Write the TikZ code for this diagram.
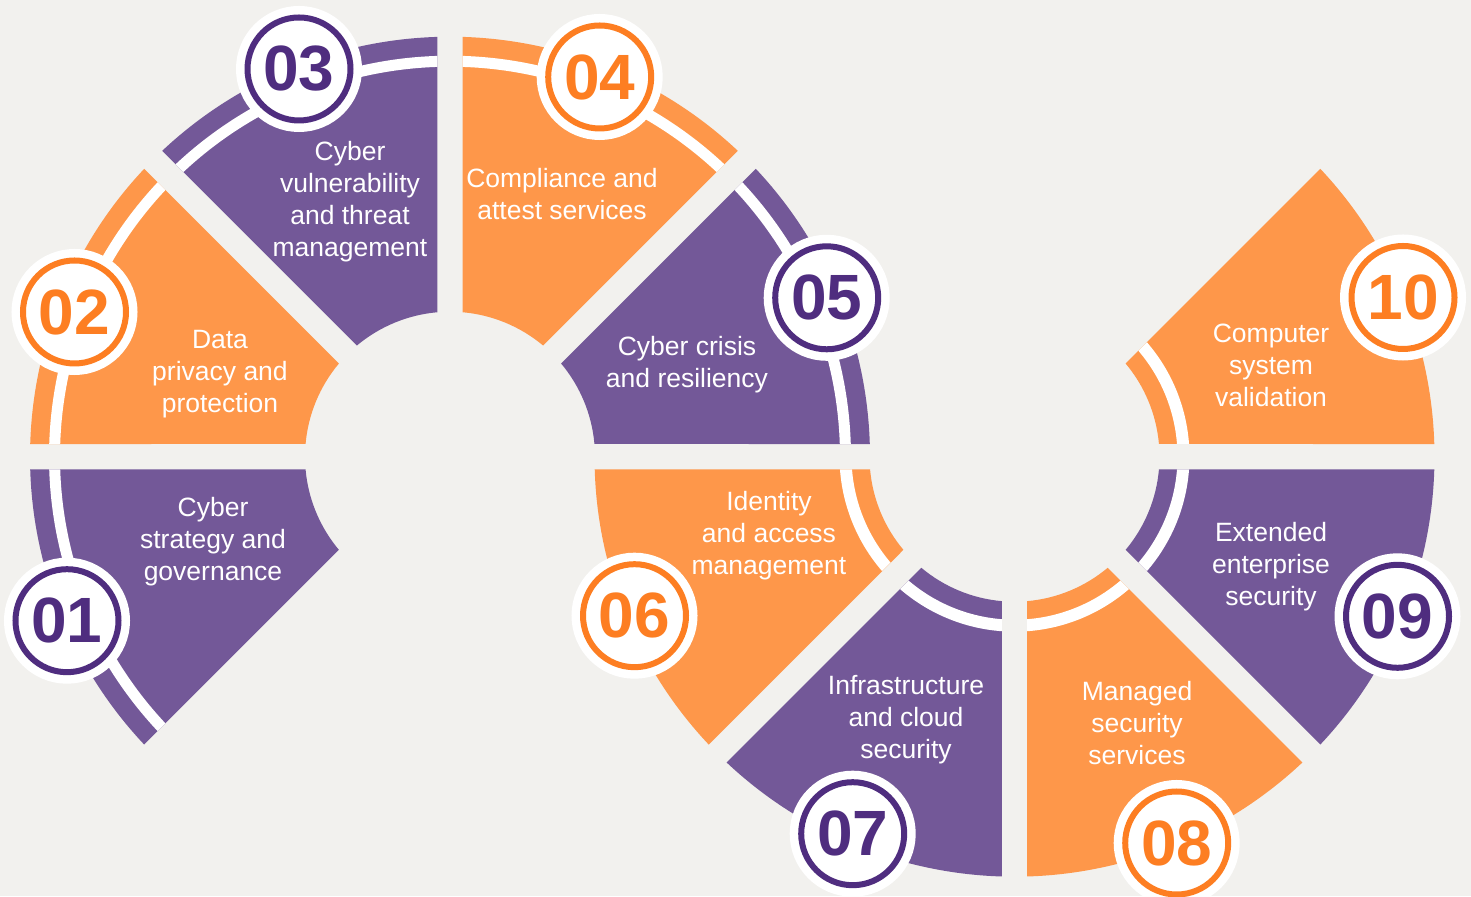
\documentclass[tikz,border=0pt]{standalone}
\usepackage{fontspec}
\setmainfont{Liberation Sans}
\usetikzlibrary{calc}

\definecolor{paper}{HTML}{F2F1EE}
\definecolor{plum}{HTML}{735898}
\definecolor{plumdark}{HTML}{4F2D7F}
\definecolor{apricot}{HTML}{FE974A}
\definecolor{apricotdark}{HTML}{FD7E22}

% half of the gap between neighbouring segments
\newcommand\halfgap{12.7}
% \ringseg{centre}{start angle}{end angle}{inner radius}{outer radius}{fill}
% an annular sector whose straight sides are parallel to the radii,
% pulled in by \halfgap so that neighbours leave an even gap
\newcommand\ringseg[6]{%
  \fill[#6, shift={(#1)}]
    ({#2+asin(\halfgap/#5)}:#5)
    arc[start angle={#2+asin(\halfgap/#5)}, end angle={#3-asin(\halfgap/#5)}, radius=#5]
    -- ({#3-asin(\halfgap/#4)}:#4)
    arc[start angle={#3-asin(\halfgap/#4)}, end angle={#2+asin(\halfgap/#4)}, radius=#4]
    -- cycle;}

\tikzset{
  badge/.style={circle, minimum size=103pt, inner sep=0pt, fill=white,
    draw=#1, line width=6pt, text=#1,
    font=\bfseries\fontsize{64}{64}\selectfont,
    preaction={draw=white, line width=23pt}},
  caption/.style={text=white, align=center, inner sep=0pt,
    font=\fontsize{26.5}{32}\selectfont}
}

\begin{document}
\begin{tikzpicture}[x=1pt, y=1pt]
\useasboundingbox (0,0) rectangle (1471,896);
\clip (0,0) rectangle (1471,896);
\fill[paper] (0,0) rectangle (1471,896);

\coordinate (L) at (450,439.3);
\coordinate (R) at (1014.5,439.3);

% upper ring: ribbon on the outside
\foreach \a/\c in {180/plum, 135/apricot, 90/plum, 45/apricot, 0/plum}{
  \ringseg{L}{\a}{\a+45}{145}{420}{\c}
  \ringseg{L}{\a}{\a+45}{390}{401}{white}
}
% lower ring: ribbon on the inside
\foreach \a/\c in {180/apricot, 225/plum, 270/apricot, 315/plum, 0/apricot}{
  \ringseg{R}{\a}{\a+45}{145}{420}{\c}
  \ringseg{R}{\a}{\a+45}{163}{175}{white}
}

% captions
\node[caption] (t01) at (213,354) {Cyber\\strategy and\\governance};
\node[caption] (t02) at (220,522) {Data\\privacy and\\protection};
\node[caption] (t03) at (350,694) {Cyber\\vulnerability\\and threat\\management};
\node[caption] (t04) at (562,702) {Compliance and\\attest services};
\node[caption] (t05) at (687,531) {Cyber crisis\\and resiliency};
\node[caption] (t06) at (769,360) {Identity\\and access\\management};
\node[caption] (t07) at (906,176) {Infrastructure\\and cloud\\security};
\node[caption] (t08) at (1137,173) {Managed\\security\\services};
\node[caption] (t09) at (1271,329) {Extended\\enterprise\\security};
\node[caption] (t10) at (1271,531) {Computer\\system\\validation};

% numbered badges
\node[badge=plumdark]    (n01) at (67,275.3)    {01};
\node[badge=apricotdark] (n02) at (74.5,584)    {02};
\node[badge=plumdark]    (n03) at (299,827)     {03};
\node[badge=apricotdark] (n04) at (599.7,819)   {04};
\node[badge=plumdark]    (n05) at (826.7,598.2) {05};
\node[badge=apricotdark] (n06) at (634.5,280.3) {06};
\node[badge=plumdark]    (n07) at (852.7,62.3)  {07};
\node[badge=apricotdark] (n08) at (1176.7,53)   {08};
\node[badge=plumdark]    (n09) at (1397.5,279.7){09};
\node[badge=apricotdark] (n10) at (1403,598.5)  {10};
\end{tikzpicture}
\end{document}
